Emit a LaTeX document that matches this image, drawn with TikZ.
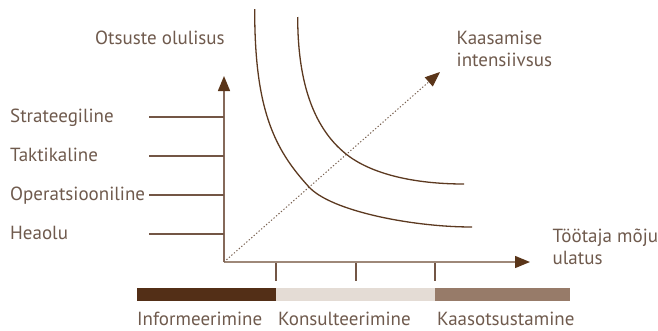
\documentclass[tikz,border=0pt]{standalone}
\usepackage{fontspec}
\setmainfont{PT Sans}
\usetikzlibrary{arrows.meta}
\definecolor{txt}{HTML}{6F5A4D}
\definecolor{axy}{HTML}{85695A}
\definecolor{axx}{HTML}{9E8879}
\definecolor{tipc}{HTML}{5A3519}
\definecolor{crv}{HTML}{5C3920}
\definecolor{dotc}{HTML}{7A6252}
\definecolor{bardark}{HTML}{532F17}
\definecolor{barlight}{HTML}{E4DCD5}
\definecolor{barmid}{HTML}{977B69}
\definecolor{tickc}{HTML}{735645}
\tikzset{
  lbl/.style={text=txt, font=\fontsize{19}{22}\selectfont, inner sep=0pt, anchor=base west},
  lvltick/.style={draw=tickc, line width=1.2pt},
  axtick/.style={draw=tickc, line width=1.1pt},
  curve/.style={draw=crv, line width=1.3pt},
  tipA/.style={-{Triangle[length=15pt,width=12pt,fill=tipc,color=tipc]}}
}
\begin{document}
\begin{tikzpicture}[x=1pt,y=-1pt]
\useasboundingbox (0,0) rectangle (658,330);
% coordinates
\coordinate (O) at (224,262);
\coordinate (ytop) at (224,76);
\coordinate (xtip) at (530,262);
\coordinate (dtip) at (440,72);
% axes
\draw[draw=axy, line width=1.4pt, tipA] (O) -- (ytop);
\draw[draw=axx, line width=1.4pt, tipA] (O) -- (xtip);
\draw[draw=dotc, line width=1pt, dash pattern=on 1.3pt off 2pt, tipA] (O) -- (dtip);
% curves
\draw[curve] (254.7,9) .. controls (254.5,109) and (274,149) .. (309,187)
  .. controls (331,211) and (412,227) .. (472,227);
\draw[curve] (297.7,17) .. controls (297.7,77) and (311,126) .. (346,154)
  .. controls (371,174) and (414,184) .. (464,184);
% level labels and ticks
\node[lbl] (s) at (10,122.5) {Strateegiline};
\node[lbl] (t) at (10,161.5) {Taktikaline};
\node[lbl] (o) at (10,200.5) {Operatsiooniline};
\node[lbl] (h) at (10,239.5) {Heaolu};
\coordinate (s1) at (149,117); \coordinate (s2) at (224,117);
\coordinate (t1) at (149,156); \coordinate (t2) at (224,156);
\coordinate (o1) at (149,195); \coordinate (o2) at (224,195);
\coordinate (h1) at (149,234); \coordinate (h2) at (224,234);
\draw[lvltick] (s1) -- (s2);
\draw[lvltick] (t1) -- (t2);
\draw[lvltick] (o1) -- (o2);
\draw[lvltick] (h1) -- (h2);
% axis labels
\node[lbl] (yl) at (95,44) {Otsuste olulisus};
\node[lbl, align=left] (dl) at (456.5,66) {Kaasamise\\intensiivsus};
\node[lbl, align=left] (xl) at (552.5,264) {Töötaja mõju\\ulatus};
% x ticks
\coordinate (k1a) at (276,263); \coordinate (k1b) at (276,281);
\coordinate (k2a) at (356,263); \coordinate (k2b) at (356,281);
\coordinate (k3a) at (435,263); \coordinate (k3b) at (435,281);
\draw[axtick] (k1a) -- (k1b);
\draw[axtick] (k2a) -- (k2b);
\draw[axtick] (k3a) -- (k3b);
% bar
\fill[bardark] (137,288) rectangle (276,301);
\fill[barlight] (276,288) rectangle (435,301);
\fill[barmid] (435,288) rectangle (570,301);
% bar labels
\node[lbl] (b1) at (137,325) {Informeerimine};
\node[lbl] (b2) at (278,325) {Konsulteerimine};
\node[lbl] (b3) at (437,325) {Kaasotsustamine};
\end{tikzpicture}
\end{document}
